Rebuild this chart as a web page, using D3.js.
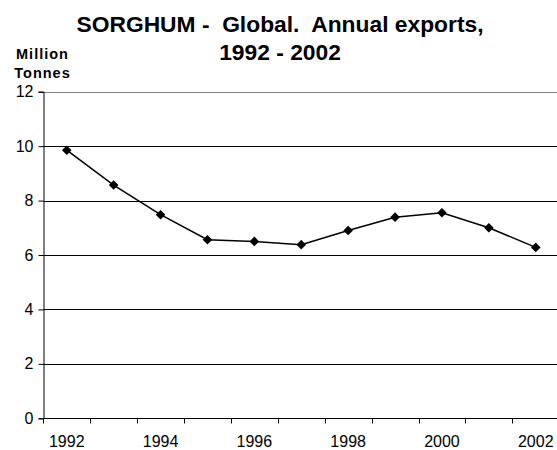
<!DOCTYPE html>
<html>
<head>
<meta charset="utf-8">
<script src="https://cdn.jsdelivr.net/npm/d3@7"></script>
<style>
  html, body { margin: 0; padding: 0; background: #fff; }
  svg { display: block; font-family: "Liberation Sans", Arial, sans-serif; }
</style>
</head>
<body>
<svg id="chart" width="557" height="450"></svg>
<script>
const years = ["1992","1993","1994","1995","1996","1997","1998","1999","2000","2001","2002"];
const exportsMt = [9.85, 8.57, 7.48, 6.56, 6.5, 6.38, 6.9, 7.39, 7.55, 7.0, 6.28];
const yTicks = [0, 2, 4, 6, 8, 10, 12];
const xTickLabels = ["1992","1994","1996","1998","2000","2002"];
const titleLines = ["SORGHUM -  Global.  Annual exports,", "1992 - 2002"];
const yAxisTitle = ["Million", "Tonnes"];

const svg = d3.select("#chart");
const left = 43.3, bandW = 46.9;
const x = d3.scaleBand().domain(years).range([left, left + years.length * bandW]).paddingInner(0).paddingOuter(0);
const y = d3.scaleLinear().domain([0, 12]).range([418.3, 91.7]);
const plotRight = 557;

// gridlines
svg.append("g").selectAll("line").data(yTicks.filter(d => d > 0)).join("line")
  .attr("x1", left).attr("x2", plotRight)
  .attr("y1", d => Math.round(y(d)) + 0.5).attr("y2", d => Math.round(y(d)) + 0.5)
  .attr("stroke", d => d === 12 ? "#808080" : "#000").attr("stroke-width", 1);

// y axis
const yAxis = svg.append("g").attr("transform", `translate(${Math.round(left) + 0.5},0)`)
  .call(d3.axisLeft(y).tickValues(yTicks).tickSize(5).tickPadding(5).tickFormat(d3.format("d")));
yAxis.select(".domain").attr("stroke", "#000");
yAxis.selectAll(".tick line").attr("stroke", "#000");
yAxis.selectAll(".tick text").attr("font-size", 16).attr("font-family", "Liberation Sans, Arial, sans-serif").attr("fill", "#000");

// x axis: ticks at category boundaries
const xg = svg.append("g").attr("transform", `translate(0,${Math.round(y(0)) + 0.5})`);
xg.append("line").attr("x1", left).attr("x2", plotRight).attr("stroke", "#000");
const bounds = years.map(d => x(d)).concat([x(years[years.length - 1]) + x.bandwidth()]);
xg.selectAll("line.tk").data(bounds.filter(b => b <= plotRight)).join("line").attr("class", "tk")
  .attr("x1", d => Math.round(d) + 0.5).attr("x2", d => Math.round(d) + 0.5)
  .attr("y1", 0).attr("y2", 5).attr("stroke", "#000");
xg.selectAll("text").data(xTickLabels).join("text")
  .attr("x", d => x(d) + x.bandwidth() / 2).attr("y", 28)
  .attr("text-anchor", "middle").attr("font-size", 16).attr("fill", "#000").text(d => d);

// line
const line = d3.line().x((d, i) => x(years[i]) + x.bandwidth() / 2).y(d => y(d));
svg.append("path").datum(exportsMt).attr("d", line)
  .attr("fill", "none").attr("stroke", "#000").attr("stroke-width", 1.5);

// markers
const sym = d3.symbol(d3.symbolSquare, 46);
svg.append("g").selectAll("path").data(exportsMt).join("path")
  .attr("d", sym)
  .attr("transform", (d, i) => `translate(${x(years[i]) + x.bandwidth() / 2},${y(d)}) rotate(45)`)
  .attr("fill", "#000");

// title
svg.append("g").selectAll("text").data(titleLines).join("text")
  .attr("x", 280).attr("y", (d, i) => 31.7 + i * 28.3)
  .attr("text-anchor", "middle").attr("font-size", 22.8).attr("font-weight", "bold")
  .style("white-space", "pre").attr("fill", "#000").text(d => d);

// y axis title
svg.append("g").selectAll("text").data(yAxisTitle).join("text")
  .attr("x", 42.5).attr("y", (d, i) => 59 + i * 19)
  .attr("text-anchor", "middle").attr("font-size", 14.5).attr("font-weight", "bold")
  .attr("letter-spacing", "1px").attr("fill", "#000").text(d => d);
</script>
</body>
</html>
